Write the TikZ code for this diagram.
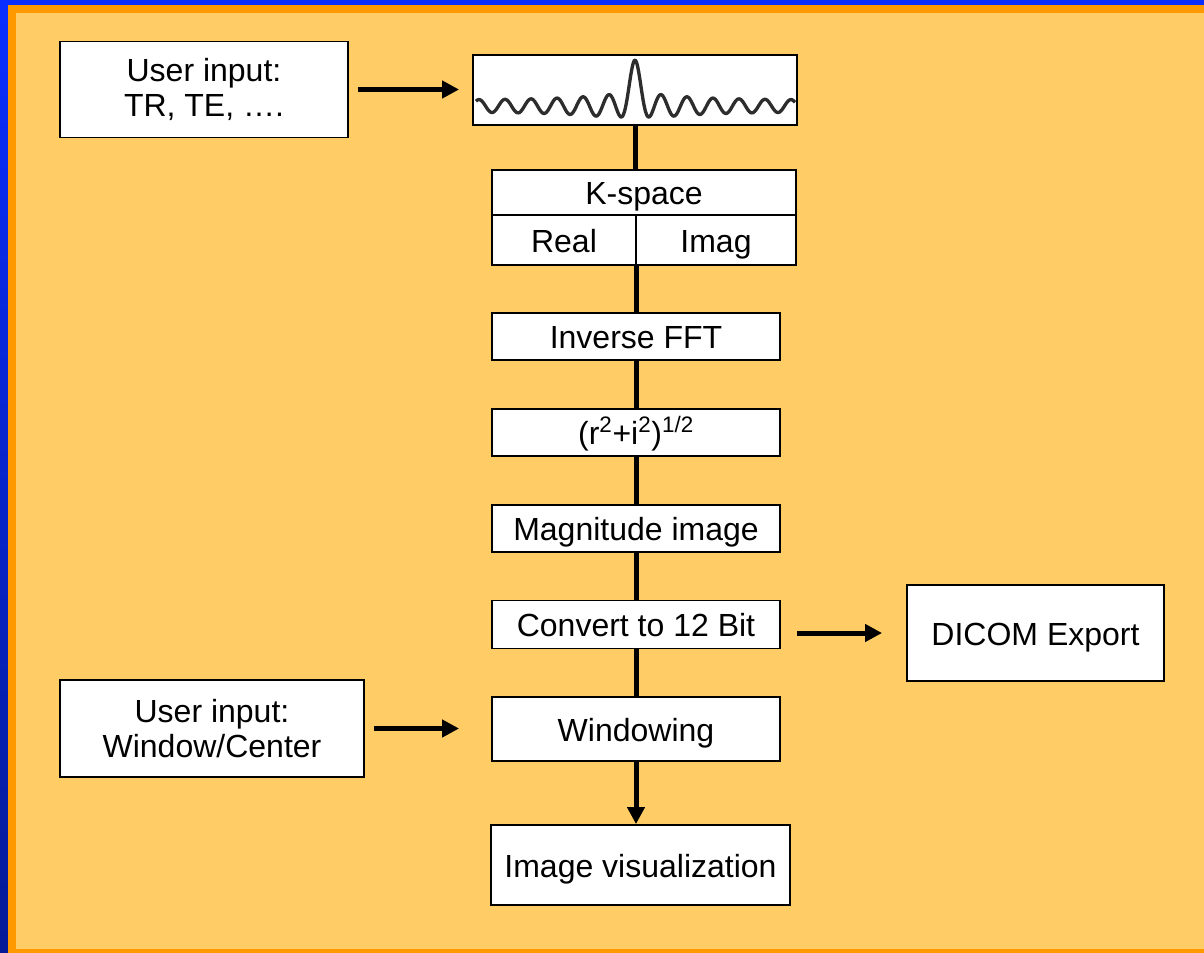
\documentclass[tikz,border=0pt]{standalone}
\usepackage{fontspec}
\setmainfont{Liberation Sans}
\usetikzlibrary{arrows.meta}
\definecolor{bgfill}{RGB}{255,204,102}
\definecolor{bgorange}{RGB}{255,153,0}
\definecolor{bluetop}{RGB}{10,46,255}
\definecolor{bluebot}{RGB}{5,26,150}
\definecolor{wavegray}{RGB}{45,45,45}

\begin{document}
\begin{tikzpicture}[x=0.75pt,y=0.75pt,yscale=-1,xscale=1,
    box/.style={draw=black,line width=1.4pt,fill=white,inner sep=0pt,font=\fontsize{24}{26}\selectfont},
    oneline/.style={box,text height=20pt,text depth=2pt},
    twoline/.style={box,align=center},
    flow/.style={line width=3.75pt},
    flowarrow/.style={line width=3.75pt,-{Triangle[length=12.75pt,width=12.75pt]}}]
    \useasboundingbox (0,0) rectangle (1204,953);
    
    %Shape: Frame
    \fill[bluetop] (0,0) rectangle (1204,953);
    \shade[top color=bluetop,bottom color=bluebot] (0,0) rectangle (8,953);
    \fill[bgorange] (8,5) rectangle (1204,953);
    \fill[bgfill] (16,13) rectangle (1204,949);
    
    % Text Node
    \node[twoline,minimum width=216pt,minimum height=72pt] (inTR) at (204,89.5) {User input:\\TR, TE, ….};
    %Shape: Signal box
    \node[box,minimum width=243pt,minimum height=52.5pt] (wave) at (635,90) {};
    \draw[wavegray,line width=2.5pt,line join=round] plot[domain=-159:160,samples=400] ({635+\x},{106-31*exp(-min((\x/8)^2,9))-(6+9*exp(-abs(\x)/50))*cos(\x*13.846)});
    % Text Node
    \node[oneline,minimum width=228pt,minimum height=33.75pt] (kspace) at (644,192.5) {K-space};
    % Text Node
    \node[oneline,minimum width=108pt,minimum height=37.5pt] (kreal) at (564,240) {Real};
    % Text Node
    \node[oneline,minimum width=120pt,minimum height=37.5pt] (kimag) at (716,240) {Imag};
    % Text Node
    \node[oneline,minimum width=216pt,minimum height=35.25pt] (ifft) at (636,336.5) {Inverse FFT};
    % Text Node
    \node[oneline,minimum width=216pt,minimum height=35.25pt] (magn) at (636,432.5) {(r\textsuperscript{2}+i\textsuperscript{2})\textsuperscript{1/2}};
    % Text Node
    \node[oneline,minimum width=216pt,minimum height=35.25pt] (magimg) at (636,528.5) {Magnitude image};
    % Text Node
    \node[oneline,minimum width=216pt,minimum height=36pt] (conv) at (636,624.5) {Convert to 12 Bit};
    % Text Node
    \node[oneline,minimum width=216pt,minimum height=48pt] (windowing) at (636,729) {Windowing};
    % Text Node
    \node[oneline,minimum width=224.25pt,minimum height=60pt] (visu) at (640.5,865) {Image visualization};
    % Text Node
    \node[oneline,minimum width=192.75pt,minimum height=72pt] (dicom) at (1035.5,633) {DICOM Export};
    % Text Node
    \node[twoline,minimum width=228pt,minimum height=72.75pt] (inWC) at (212,728.5) {User input:\\Window/Center};
    
    %Connectors
    \draw[flow] (wave.south) -- (wave.south |- kspace.north);
    \draw[flow] (kreal.south east) -- (kreal.south east |- ifft.north);
    \draw[flow] (ifft.south) -- (magn.north);
    \draw[flow] (magn.south) -- (magimg.north);
    \draw[flow] (magimg.south) -- (conv.north);
    \draw[flow] (conv.south) -- (windowing.north);
    \draw[flowarrow] (windowing.south) -- (windowing.south |- visu.north);
    \draw[flowarrow,shorten <=6.75pt,shorten >=9.75pt] (inTR.east) -- (inTR.east -| wave.west);
    \draw[flowarrow,shorten <=12pt,shorten >=18pt] (conv.east |- dicom.west) -- (dicom.west);
    \draw[flowarrow,shorten <=6.75pt,shorten >=24pt] (inWC.east) -- (inWC.east -| windowing.west);
    
\end{tikzpicture}
\end{document}
